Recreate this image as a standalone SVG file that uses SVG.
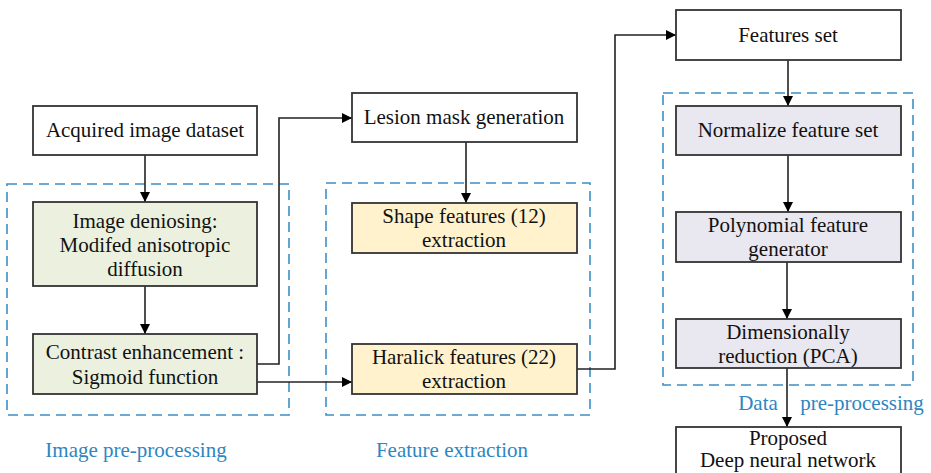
<svg xmlns="http://www.w3.org/2000/svg" width="931" height="473" viewBox="0 0 931 473">
<defs>
<marker id="ah" viewBox="0 0 10 10" refX="10" refY="5" markerWidth="10" markerHeight="10" markerUnits="userSpaceOnUse" orient="auto">
<path d="M0,0 L10,5 L0,10 Z" fill="#000"/>
</marker>
<style>
.box{stroke:#333;stroke-width:1.8}
.w{fill:#fff}.g{fill:#ebf1de}.y{fill:#fff2cc}.p{fill:#e9e7ef}
.t{font-family:'Liberation Serif','DejaVu Serif',serif;font-size:21px;fill:#111;text-anchor:middle}
.lbl{font-family:'Liberation Serif','DejaVu Serif',serif;font-size:21px;fill:#2e86c1;text-anchor:middle}
.dash{fill:none;stroke:#3d8fc6;stroke-width:1.6;stroke-dasharray:10 6}
.c{fill:none;stroke:#222;stroke-width:1.6}
</style>
</defs>
<rect width="931" height="473" fill="#fff"/>
<g id="groups">
<rect class="dash" x="7" y="184" width="282" height="231"/>
<rect class="dash" x="326" y="183" width="264" height="232"/>
<rect class="dash" x="663" y="93" width="250" height="292"/>
<text class="lbl" x="136" y="457">Image pre-processing</text>
<text class="lbl" x="452" y="457">Feature extraction</text>
<text class="lbl" y="410"><tspan x="758">Data</tspan><tspan x="862">pre-processing</tspan></text>
</g>
<g id="connectors">
<line class="c" x1="145" y1="155" x2="145" y2="202" marker-end="url(#ah)"/>
<line class="c" x1="145" y1="286" x2="145" y2="334" marker-end="url(#ah)"/>
<polyline class="c" points="257,364 279,364 279,118 352,118" marker-end="url(#ah)"/>
<line class="c" x1="257" y1="382" x2="352" y2="382" marker-end="url(#ah)"/>
<line class="c" x1="466" y1="142" x2="466" y2="203" marker-end="url(#ah)"/>
<polyline class="c" points="577,369 615,369 615,35 676,35" marker-end="url(#ah)"/>
<line class="c" x1="788" y1="60" x2="788" y2="106" marker-end="url(#ah)"/>
<line class="c" x1="788" y1="155" x2="788" y2="212" marker-end="url(#ah)"/>
<line class="c" x1="787" y1="262" x2="787" y2="319" marker-end="url(#ah)"/>
<line class="c" x1="787" y1="368" x2="787" y2="427" marker-end="url(#ah)"/>
</g>
<g id="n1"><rect class="box w" x="33" y="106" width="224" height="49"/><text class="t" x="145" y="137">Acquired image dataset</text></g>
<g id="n2"><rect class="box g" x="33" y="202" width="224" height="84"/><text class="t" x="145" y="228">Image deniosing:</text><text class="t" x="145" y="252">Modifed anisotropic</text><text class="t" x="145" y="276">diffusion</text></g>
<g id="n3"><rect class="box g" x="33" y="334" width="224" height="60"/><text class="t" x="145" y="359">Contrast enhancement :</text><text class="t" x="145" y="384">Sigmoid function</text></g>
<g id="n4"><rect class="box w" x="352" y="93" width="225" height="49"/><text class="t" x="464" y="124">Lesion mask generation</text></g>
<g id="n5"><rect class="box y" x="352" y="203" width="225" height="50"/><text class="t" x="464" y="223">Shape features (12)</text><text class="t" x="464" y="247">extraction</text></g>
<g id="n6"><rect class="box y" x="352" y="344" width="225" height="50"/><text class="t" x="464" y="364">Haralick features (22)</text><text class="t" x="464" y="388">extraction</text></g>
<g id="n7"><rect class="box w" x="676" y="10" width="225" height="50"/><text class="t" x="788" y="42">Features set</text></g>
<g id="n8"><rect class="box p" x="676" y="106" width="225" height="49"/><text class="t" x="788" y="137">Normalize feature set</text></g>
<g id="n9"><rect class="box p" x="676" y="212" width="225" height="50"/><text class="t" x="788" y="232">Polynomial feature</text><text class="t" x="788" y="256">generator</text></g>
<g id="n10"><rect class="box p" x="676" y="319" width="225" height="49"/><text class="t" x="788" y="339">Dimensionally</text><text class="t" x="788" y="363">reduction (PCA)</text></g>
<g id="n11"><rect class="box w" x="676" y="427" width="225" height="60"/><text class="t" x="788" y="445">Proposed</text><text class="t" x="788" y="467">Deep neural network</text></g>
</svg>
